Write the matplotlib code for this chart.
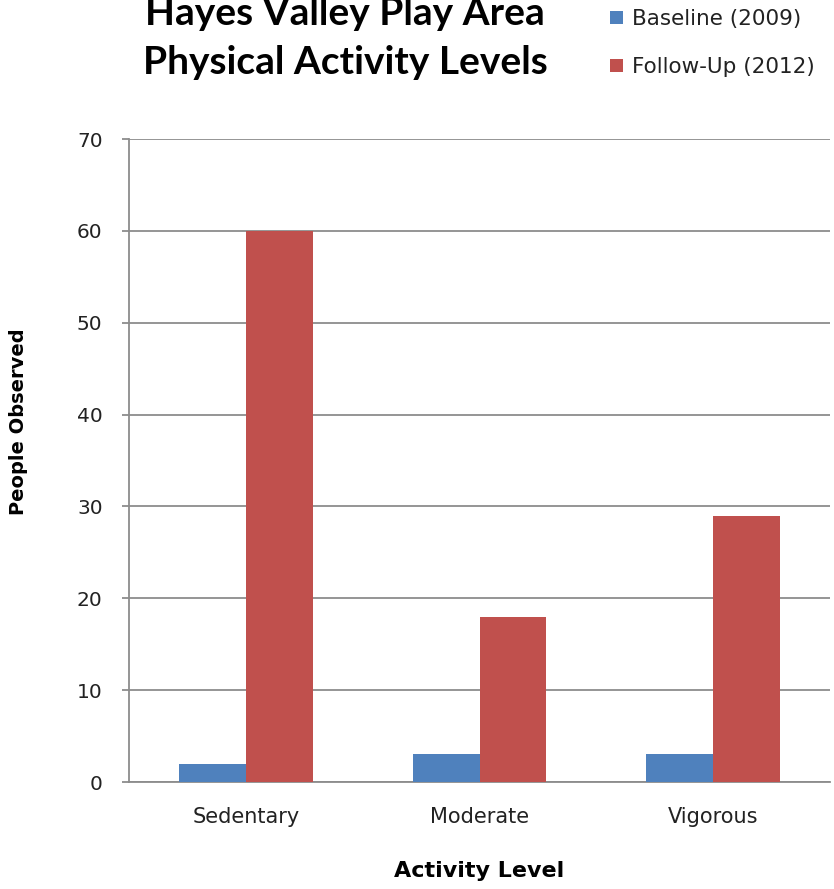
import matplotlib
matplotlib.use("Agg")
import matplotlib.pyplot as plt
import numpy as np

# Daten
categories = ["Sedentary", "Moderate", "Vigorous"]
baseline_2009 = [2, 3, 3]
followup_2012 = [60, 18, 29]
series_labels = ["Baseline (2009)", "Follow-Up (2012)"]
y_ticks = [0, 10, 20, 30, 40, 50, 60, 70]

BLUE = "#4F81BD"
RED = "#C0504D"
GRID = "#8C8C8C"

fig = plt.figure(figsize=(8.34, 8.89), dpi=100)
ax = fig.add_axes([129 / 834, 1 - 782 / 889, 701 / 834, (782 - 139) / 889])

x = np.arange(len(categories))
width = 1 / 3.5
ax.bar(x - width / 2, baseline_2009, width, color=BLUE, label=series_labels[0], zorder=3)
ax.bar(x + width / 2, followup_2012, width, color=RED, label=series_labels[1], zorder=3)

ax.set_xlim(-0.5, len(categories) - 0.5)
ax.set_ylim(0, 70)
ax.set_yticks(y_ticks)
ax.set_xticks(x)
ax.set_xticklabels(categories)

ax.yaxis.grid(True, color=GRID, linewidth=1.3, zorder=0)
ax.set_axisbelow(True)
for s in ["top", "right"]:
    ax.spines[s].set_visible(False)
ax.spines["left"].set_color(GRID)
ax.spines["bottom"].set_color(GRID)
ax.spines["left"].set_linewidth(1.3)
ax.spines["bottom"].set_linewidth(1.3)
ax.tick_params(axis="y", length=5, width=1.3, color=GRID, pad=14, labelsize=14.5, labelcolor="#222222")
ax.tick_params(axis="x", length=0, pad=18, labelsize=15, labelcolor="#222222")

ax.set_xlabel("Activity Level", fontsize=16, fontweight="bold")
ax.xaxis.set_label_coords(0.5, (782 - 861) / 643, transform=ax.transAxes)
ax.set_ylabel("People Observed", fontsize=14, fontweight="bold")
ax.yaxis.set_label_coords((28 - 129) / 701, (782 - 422) / 643, transform=ax.transAxes)

fig.text(345 / 834, 1 - 38 / 889, "Hayes Valley Play Area\nPhysical Activity Levels",
         ha="center", va="center", fontsize=28, fontweight="bold", family="Lato",
         linespacing=1.5)

ax.legend(loc="center left", bbox_to_anchor=(591 / 834, 1 - 43 / 889),
          bbox_transform=fig.transFigure, frameon=False, fontsize=15.5,
          handlelength=0.6, handleheight=0.6, handletextpad=0.4,
          labelspacing=1.3, labelcolor="#222222")

fig.savefig("out.png", dpi=100)
